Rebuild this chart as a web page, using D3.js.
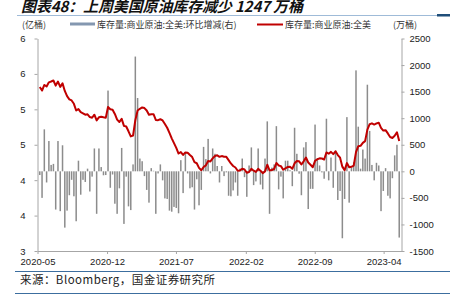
<!DOCTYPE html>
<html>
<head>
<meta charset="utf-8">
<script src="https://cdn.jsdelivr.net/npm/d3@7"></script>
<style>
body { margin: 0; background: #fff; }
</style>
</head>
<body>
<svg id="chart" width="450" height="298"></svg>
<script>
// weekly data, first week ending 2020-05-08
var firstWeek = '2020-05-08';

// 库存量:商业原油:全美:环比增减 (万桶)
var weeklyChange = [
  -70, -500, 790, -210, 570, 120, 140, -720, 570, -750,
  490, -1060, -740, -450, -160, -470, -940, 200, -440, -160,
  -200, 50, -380, -100, 430, -800, 430, 80, -75, -70,
  1520, -310, -60, -610, -800, -320, 440, -990, -100, -660,
  -730, 130, 2160, 1380, 240, 190, -90, -350, -590, 60,
  10, -800, -40, 130, -170, -510, -520, -740, -760, -670,
  -690, -790, 210, -410, 360, -40, -320, -300, -720, -150,
  -640, -350, 460, 230, 610, -40, 430, 330, 100, -210,
  100, -90, -20, -460, -470, -360, -210, -460, 50, 240,
  -110, -480, 110, 450, -260, -190, 430, -250, -340, 240,
  940, -800, 70, 130, 850, -340, -100, -510, 200, 200,
  20, -280, 820, 330, -45, -450, 450, 550, -710, -330,
  -330, 880, 240, 110, -20, -140, 990, -170, 260, -310,
  390, -540, -370, -1260, -520, 1020, -590, 70, 170, 1900,
  840, 50, 410, 240, 1630, 760, 120, -170, 160, 110,
  -750, -370, 60, -460, -510, -130, 300, 500, -1247
];

// 库存量:商业原油:全美 (亿桶)
var stockLevel = [
  5.315, 5.265, 5.344, 5.323, 5.381, 5.393, 5.407, 5.335, 5.392, 5.317,
  5.366, 5.260, 5.186, 5.141, 5.125, 5.078, 4.984, 5.004, 4.960, 4.944,
  4.924, 4.929, 4.891, 4.881, 4.924, 4.844, 4.887, 4.895, 4.887, 4.880,
  5.032, 5.001, 4.995, 4.935, 4.855, 4.822, 4.866, 4.767, 4.757, 4.690,
  4.618, 4.630, 4.846, 4.984, 5.008, 5.027, 5.018, 4.983, 4.924, 4.930,
  4.931, 4.851, 4.847, 4.860, 4.843, 4.793, 4.740, 4.667, 4.591, 4.523,
  4.455, 4.376, 4.397, 4.356, 4.392, 4.388, 4.356, 4.326, 4.254, 4.239,
  4.174, 4.140, 4.185, 4.209, 4.270, 4.265, 4.308, 4.341, 4.351, 4.330,
  4.340, 4.331, 4.329, 4.283, 4.236, 4.200, 4.179, 4.133, 4.138, 4.162,
  4.151, 4.104, 4.115, 4.160, 4.134, 4.116, 4.159, 4.134, 4.099, 4.124,
  4.218, 4.137, 4.144, 4.157, 4.242, 4.208, 4.198, 4.147, 4.168, 4.187,
  4.189, 4.161, 4.238, 4.271, 4.266, 4.221, 4.266, 4.320, 4.250, 4.217,
  4.183, 4.272, 4.296, 4.308, 4.306, 4.292, 4.391, 4.374, 4.399, 4.368,
  4.408, 4.354, 4.317, 4.191, 4.139, 4.241, 4.182, 4.189, 4.206, 4.396,
  4.480, 4.485, 4.527, 4.551, 4.714, 4.790, 4.802, 4.785, 4.801, 4.812,
  4.737, 4.700, 4.706, 4.660, 4.609, 4.596, 4.626, 4.676, 4.552
];

var leftTicks = [3, 3.5, 4, 4.5, 5, 5.5, 6];
var rightTicks = [-1500, -1000, -500, 0, 500, 1000, 1500, 2000, 2500];
var dateTicks = ['2020-05', '2020-12', '2021-07', '2022-02', '2022-09', '2023-04'];

var titleText = '图表48：上周美国原油库存减少 1247 万桶';
var barName = '库存量:商业原油:全美:环比增减(右)';
var lineName = '库存量:商业原油:全美';
var sourceText = '来源：Bloomberg，国金证券研究所';

var svg = d3.select('#chart');
var plot = {left: 37.5, right: 401.5, top: 38.5, bottom: 251};

var parseDay = d3.timeParse('%Y-%m-%d');
var parseMonth = d3.timeParse('%Y-%m');
var t0 = parseDay(firstWeek);
var rows = weeklyChange.map(function(v, i){
  return {date: d3.timeDay.offset(t0, 7 * i), chg: v, stock: stockLevel[i]};
});

var x = d3.scaleTime()
  .domain([parseDay('2020-05-01'), parseDay('2023-05-26')])
  .range([plot.left, plot.right]);
var yL = d3.scaleLinear().domain([3, 6]).range([plot.bottom, plot.top]);
var yR = d3.scaleLinear().domain([-1500, 2500]).range([plot.bottom, plot.top]);

// title + rule
svg.append('text')
  .attr('x', 21).attr('y', 12)
  .attr('font-family', '"Noto Sans CJK SC", sans-serif')
  .attr('font-size', 15).attr('font-weight', 'bold').attr('font-style', 'italic')
  .attr('fill', '#111')
  .attr('textLength', 282).attr('lengthAdjust', 'spacing')
  .text(titleText);
svg.append('line')
  .attr('x1', 17).attr('x2', 437).attr('y1', 15.5).attr('y2', 15.5)
  .attr('stroke', '#9fbbd8').attr('stroke-width', 1);
svg.append('rect')
  .attr('x', 437).attr('y', 14).attr('width', 13).attr('height', 2.5)
  .attr('fill', '#1f4e79');

// legend
var lg = svg.append('g')
  .attr('font-family', '"Noto Sans CJK SC", sans-serif')
  .attr('font-size', 9).attr('fill', '#333');
lg.append('text').attr('x', 22).attr('y', 28).text('(亿桶)');
lg.append('rect').attr('x', 70).attr('y', 22.5).attr('width', 25).attr('height', 3)
  .attr('fill', '#8497b0');
lg.append('text').attr('x', 97).attr('y', 28).text(barName);
lg.append('line').attr('x1', 257).attr('x2', 283).attr('y1', 24.5).attr('y2', 24.5)
  .attr('stroke', '#c00000').attr('stroke-width', 2);
lg.append('text').attr('x', 285).attr('y', 28).text(lineName);
lg.append('text').attr('x', 393).attr('y', 28).text('(万桶)');

// bars
var barW = 1.5;
svg.append('g').selectAll('rect')
  .data(rows)
  .enter()
  .append('rect')
  .attr('x', function(d){ return x(d.date) - barW / 2; })
  .attr('y', function(d){ return yR(Math.max(0, d.chg)); })
  .attr('width', barW)
  .attr('height', function(d){ return Math.abs(yR(d.chg) - yR(0)); })
  .attr('fill', '#8c8c8c');

// stock line
svg.append('path')
  .datum(rows)
  .attr('fill', 'none')
  .attr('stroke', '#c00000')
  .attr('stroke-width', 2)
  .attr('stroke-linejoin', 'round')
  .attr('d', d3.line()
    .x(function(d){ return x(d.date); })
    .y(function(d){ return yL(d.stock); }));

// axes
function styleAxis(g){
  g.select('.domain').attr('stroke', '#a6a6a6');
  g.selectAll('.tick line').attr('stroke', '#a6a6a6');
  g.selectAll('.tick text')
    .attr('fill', '#222')
    .attr('font-family', '"Liberation Sans", Arial, sans-serif')
    .attr('font-size', 9.5);
}

svg.append('g')
  .attr('transform', 'translate(' + plot.left + ',0)')
  .call(d3.axisLeft(yL).tickValues(leftTicks).tickFormat(function(d){ return d.toFixed(0); })
    .tickSize(3).tickSizeOuter(0).tickPadding(9))
  .call(styleAxis);

svg.append('g')
  .attr('transform', 'translate(' + plot.right + ',0)')
  .call(d3.axisRight(yR).tickValues(rightTicks).tickFormat(function(d){ return String(d); })
    .tickSize(3).tickSizeOuter(0).tickPadding(5))
  .call(styleAxis);

svg.append('g')
  .attr('transform', 'translate(0,' + plot.bottom + ')')
  .call(d3.axisBottom(x).tickValues(dateTicks.map(parseMonth))
    .tickFormat(d3.timeFormat('%Y-%m')).tickSize(3).tickSizeOuter(0).tickPadding(4))
  .call(styleAxis);

// footer
svg.append('line')
  .attr('x1', 15).attr('x2', 450).attr('y1', 271.5).attr('y2', 271.5)
  .attr('stroke', '#3c6e9f').attr('stroke-width', 1.2);
svg.append('text')
  .attr('x', 20).attr('y', 284)
  .attr('font-family', '"Noto Sans CJK SC", sans-serif')
  .attr('font-size', 11.5).attr('fill', '#222')
  .attr('textLength', 195).attr('lengthAdjust', 'spacing')
  .text(sourceText);
svg.append('line')
  .attr('x1', 15).attr('x2', 450).attr('y1', 293.5).attr('y2', 293.5)
  .attr('stroke', '#3c6e9f').attr('stroke-width', 1.2);
</script>
</body>
</html>
